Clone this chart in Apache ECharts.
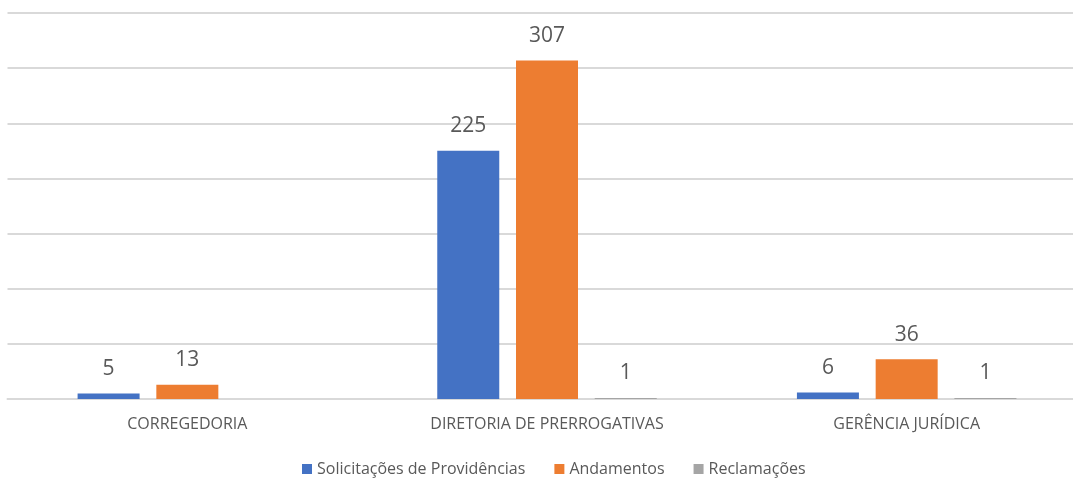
<!DOCTYPE html>
<html>
<head>
<meta charset="utf-8">
<script src="https://cdn.jsdelivr.net/npm/echarts@6/dist/echarts.min.js"></script>
<style>
  html, body { margin: 0; padding: 0; background: #fff; }
  #chart { width: 1073px; height: 479px; }
</style>
</head>
<body>
<div id="chart"></div>
<script>
// setores
const categories = ['CORREGEDORIA', 'DIRETORIA DE PRERROGATIVAS', 'GERÊNCIA JURÍDICA']
const solicitacoes = [5, 225, 6]
const andamentos = [13, 307, 36]
const reclamacoes = [null, 1, 1]

const fontFamily = '"Open Sans", "Noto Sans", sans-serif'
const textColor = '#595959'

const chart = echarts.init(document.getElementById('chart'))

const labelStyle = {
  show: true,
  position: 'top',
  distance: 14,
  color: textColor,
  fontSize: 21,
  fontFamily: fontFamily
}

chart.setOption({
  animation: false,
  grid: {
    left: 7.5,
    width: 1079,
    top: 13,
    bottom: 80,
    outerBoundsMode: 'none'
  },
  legend: {
    top: 456,
    left: 297,
    itemWidth: 10,
    itemHeight: 10,
    itemGap: 29,
    icon: 'rect',
    textStyle: {
      color: textColor,
      fontSize: 16,
      fontFamily: fontFamily
    },
    data: ['Solicitações de Providências', 'Andamentos', 'Reclamações']
  },
  xAxis: {
    type: 'category',
    data: categories,
    axisLine: { lineStyle: { color: '#d9d9d9', width: 2 } },
    axisTick: { show: false },
    axisLabel: {
      color: textColor,
      fontSize: 16,
      fontFamily: fontFamily,
      margin: 17
    }
  },
  yAxis: {
    type: 'value',
    min: 0,
    max: 350,
    interval: 50,
    axisLabel: { show: false },
    axisLine: { show: false },
    axisTick: { show: false },
    splitLine: { lineStyle: { color: '#d9d9d9', width: 2 } }
  },
  series: [
    {
      name: 'Solicitações de Providências',
      type: 'bar',
      data: solicitacoes,
      barWidth: 62,
      barGap: '27%',
      itemStyle: { color: '#4472C4' },
      label: labelStyle
    },
    {
      name: 'Andamentos',
      type: 'bar',
      data: andamentos,
      barWidth: 62,
      barGap: '27%',
      itemStyle: { color: '#ED7D31' },
      label: labelStyle
    },
    {
      name: 'Reclamações',
      type: 'bar',
      data: reclamacoes,
      barWidth: 62,
      barGap: '27%',
      itemStyle: { color: '#A5A5A5' },
      label: labelStyle
    }
  ]
})
</script>
</body>
</html>
